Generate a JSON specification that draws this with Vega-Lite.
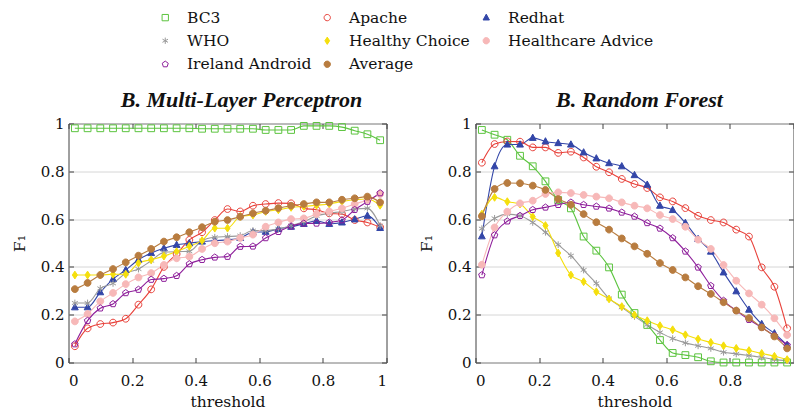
{
"$schema": "https://vega.github.io/schema/vega-lite/v6.json",
"padding": {"left": 11.5, "top": 9.5, "right": 0, "bottom": 0},
"background": "white",
"config": {
  "font": "DejaVu Serif",
  "view": {"stroke": "#404040", "strokeWidth": 1},
  "axis": {"labelFont": "DejaVu Serif", "titleFont": "DejaVu Serif", "labelFontSize": 15, "titleFontSize": 15.5, "labelColor": "#111", "titleColor": "#111", "domain": false, "tickColor": "#404040", "tickSize": -5, "gridColor": "#d6d6d6", "gridWidth": 1, "titleFontWeight": "normal"},
  "legend": {"labelFont": "DejaVu Serif"},
  "title": {"font": "Liberation Serif", "fontSize": 22, "fontWeight": "bold", "fontStyle": "italic", "frame": "group", "anchor": "middle", "baseline": "alphabetic", "offset": 4.5, "color": "#111"}
},
"datasets": {
"mlp": [
{"t":0.02,"BC3":0.98,"Apache":0.068,"Redhat":0.231,"WHO":0.249,"Healthy Choice":0.366,"Healthcare Advice":0.172,"Ireland Android":0.077,"Average":0.307},
{"t":0.06,"BC3":0.98,"Apache":0.143,"Redhat":0.231,"WHO":0.249,"Healthy Choice":0.366,"Healthcare Advice":0.203,"Ireland Android":0.175,"Average":0.333},
{"t":0.10,"BC3":0.98,"Apache":0.161,"Redhat":0.294,"WHO":0.31,"Healthy Choice":0.366,"Healthcare Advice":0.256,"Ireland Android":0.227,"Average":0.366},
{"t":0.14,"BC3":0.98,"Apache":0.167,"Redhat":0.349,"WHO":0.331,"Healthy Choice":0.369,"Healthcare Advice":0.291,"Ireland Android":0.245,"Average":0.391},
{"t":0.18,"BC3":0.98,"Apache":0.183,"Redhat":0.387,"WHO":0.373,"Healthy Choice":0.369,"Healthcare Advice":0.328,"Ireland Android":0.291,"Average":0.419},
{"t":0.22,"BC3":0.98,"Apache":0.242,"Redhat":0.43,"WHO":0.391,"Healthy Choice":0.416,"Healthcare Advice":0.356,"Ireland Android":0.305,"Average":0.447},
{"t":0.26,"BC3":0.98,"Apache":0.306,"Redhat":0.458,"WHO":0.426,"Healthy Choice":0.43,"Healthcare Advice":0.374,"Ireland Android":0.347,"Average":0.475},
{"t":0.30,"BC3":0.98,"Apache":0.40,"Redhat":0.478,"WHO":0.461,"Healthy Choice":0.445,"Healthcare Advice":0.408,"Ireland Android":0.351,"Average":0.506},
{"t":0.34,"BC3":0.98,"Apache":0.454,"Redhat":0.492,"WHO":0.464,"Healthy Choice":0.464,"Healthcare Advice":0.436,"Ireland Android":0.363,"Average":0.524},
{"t":0.38,"BC3":0.98,"Apache":0.513,"Redhat":0.499,"WHO":0.465,"Healthy Choice":0.486,"Healthcare Advice":0.443,"Ireland Android":0.412,"Average":0.545},
{"t":0.42,"BC3":0.978,"Apache":0.545,"Redhat":0.506,"WHO":0.51,"Healthy Choice":0.51,"Healthcare Advice":0.475,"Ireland Android":0.43,"Average":0.566},
{"t":0.46,"BC3":0.978,"Apache":0.596,"Redhat":0.51,"WHO":0.524,"Healthy Choice":0.562,"Healthcare Advice":0.499,"Ireland Android":0.44,"Average":0.589},
{"t":0.50,"BC3":0.978,"Apache":0.642,"Redhat":0.513,"WHO":0.527,"Healthy Choice":0.562,"Healthcare Advice":0.506,"Ireland Android":0.443,"Average":0.596},
{"t":0.54,"BC3":0.978,"Apache":0.632,"Redhat":0.521,"WHO":0.531,"Healthy Choice":0.611,"Healthcare Advice":0.521,"Ireland Android":0.485,"Average":0.61},
{"t":0.58,"BC3":0.978,"Apache":0.656,"Redhat":0.545,"WHO":0.552,"Healthy Choice":0.617,"Healthcare Advice":0.535,"Ireland Android":0.486,"Average":0.624},
{"t":0.62,"BC3":0.973,"Apache":0.663,"Redhat":0.547,"WHO":0.552,"Healthy Choice":0.632,"Healthcare Advice":0.568,"Ireland Android":0.521,"Average":0.635},
{"t":0.66,"BC3":0.973,"Apache":0.667,"Redhat":0.559,"WHO":0.559,"Healthy Choice":0.639,"Healthcare Advice":0.586,"Ireland Android":0.547,"Average":0.646},
{"t":0.70,"BC3":0.973,"Apache":0.666,"Redhat":0.568,"WHO":0.573,"Healthy Choice":0.649,"Healthcare Advice":0.6,"Ireland Android":0.57,"Average":0.656},
{"t":0.74,"BC3":0.99,"Apache":0.645,"Redhat":0.58,"WHO":0.589,"Healthy Choice":0.653,"Healthcare Advice":0.603,"Ireland Android":0.582,"Average":0.663},
{"t":0.78,"BC3":0.99,"Apache":0.639,"Redhat":0.593,"WHO":0.614,"Healthy Choice":0.658,"Healthcare Advice":0.621,"Ireland Android":0.582,"Average":0.67},
{"t":0.82,"BC3":0.99,"Apache":0.624,"Redhat":0.58,"WHO":0.624,"Healthy Choice":0.663,"Healthcare Advice":0.632,"Ireland Android":0.586,"Average":0.67},
{"t":0.86,"BC3":0.985,"Apache":0.621,"Redhat":0.586,"WHO":0.632,"Healthy Choice":0.674,"Healthcare Advice":0.645,"Ireland Android":0.596,"Average":0.681},
{"t":0.90,"BC3":0.97,"Apache":0.596,"Redhat":0.599,"WHO":0.642,"Healthy Choice":0.681,"Healthcare Advice":0.663,"Ireland Android":0.639,"Average":0.687},
{"t":0.94,"BC3":0.955,"Apache":0.586,"Redhat":0.614,"WHO":0.645,"Healthy Choice":0.684,"Healthcare Advice":0.68,"Ireland Android":0.673,"Average":0.694},
{"t":0.98,"BC3":0.93,"Apache":0.566,"Redhat":0.563,"WHO":0.573,"Healthy Choice":0.658,"Healthcare Advice":0.705,"Ireland Android":0.709,"Average":0.67}
],
"rf": [
{"t":0.02,"BC3":0.973,"Apache":0.836,"Redhat":0.528,"WHO":0.56,"Healthy Choice":0.621,"Healthcare Advice":0.409,"Ireland Android":0.366,"Average":0.612},
{"t":0.06,"BC3":0.953,"Apache":0.914,"Redhat":0.821,"WHO":0.603,"Healthy Choice":0.691,"Healthcare Advice":0.565,"Ireland Android":0.533,"Average":0.726},
{"t":0.10,"BC3":0.932,"Apache":0.925,"Redhat":0.912,"WHO":0.621,"Healthy Choice":0.673,"Healthcare Advice":0.631,"Ireland Android":0.591,"Average":0.751},
{"t":0.14,"BC3":0.865,"Apache":0.924,"Redhat":0.912,"WHO":0.614,"Healthy Choice":0.663,"Healthcare Advice":0.666,"Ireland Android":0.614,"Average":0.75},
{"t":0.18,"BC3":0.821,"Apache":0.9,"Redhat":0.94,"WHO":0.586,"Healthy Choice":0.61,"Healthcare Advice":0.677,"Ireland Android":0.639,"Average":0.74},
{"t":0.22,"BC3":0.758,"Apache":0.9,"Redhat":0.925,"WHO":0.545,"Healthy Choice":0.573,"Healthcare Advice":0.705,"Ireland Android":0.649,"Average":0.722},
{"t":0.26,"BC3":0.68,"Apache":0.877,"Redhat":0.918,"WHO":0.493,"Healthy Choice":0.458,"Healthcare Advice":0.712,"Ireland Android":0.66,"Average":0.684},
{"t":0.30,"BC3":0.645,"Apache":0.882,"Redhat":0.912,"WHO":0.447,"Healthy Choice":0.366,"Healthcare Advice":0.709,"Ireland Android":0.67,"Average":0.66},
{"t":0.34,"BC3":0.527,"Apache":0.858,"Redhat":0.879,"WHO":0.387,"Healthy Choice":0.338,"Healthcare Advice":0.701,"Ireland Android":0.66,"Average":0.621},
{"t":0.38,"BC3":0.468,"Apache":0.819,"Redhat":0.854,"WHO":0.331,"Healthy Choice":0.296,"Healthcare Advice":0.694,"Ireland Android":0.653,"Average":0.587},
{"t":0.42,"BC3":0.398,"Apache":0.796,"Redhat":0.834,"WHO":0.268,"Healthy Choice":0.266,"Healthcare Advice":0.687,"Ireland Android":0.645,"Average":0.556},
{"t":0.46,"BC3":0.284,"Apache":0.768,"Redhat":0.821,"WHO":0.231,"Healthy Choice":0.234,"Healthcare Advice":0.67,"Ireland Android":0.628,"Average":0.519},
{"t":0.50,"BC3":0.207,"Apache":0.747,"Redhat":0.784,"WHO":0.193,"Healthy Choice":0.199,"Healthcare Advice":0.656,"Ireland Android":0.611,"Average":0.486},
{"t":0.54,"BC3":0.157,"Apache":0.73,"Redhat":0.744,"WHO":0.158,"Healthy Choice":0.175,"Healthcare Advice":0.645,"Ireland Android":0.584,"Average":0.455},
{"t":0.58,"BC3":0.094,"Apache":0.691,"Redhat":0.656,"WHO":0.126,"Healthy Choice":0.154,"Healthcare Advice":0.617,"Ireland Android":0.561,"Average":0.416},
{"t":0.62,"BC3":0.04,"Apache":0.674,"Redhat":0.638,"WHO":0.1,"Healthy Choice":0.137,"Healthcare Advice":0.6,"Ireland Android":0.521,"Average":0.387},
{"t":0.66,"BC3":0.031,"Apache":0.646,"Redhat":0.584,"WHO":0.082,"Healthy Choice":0.116,"Healthcare Advice":0.568,"Ireland Android":0.465,"Average":0.356},
{"t":0.70,"BC3":0.022,"Apache":0.614,"Redhat":0.517,"WHO":0.07,"Healthy Choice":0.098,"Healthcare Advice":0.514,"Ireland Android":0.398,"Average":0.319},
{"t":0.74,"BC3":0.005,"Apache":0.596,"Redhat":0.464,"WHO":0.059,"Healthy Choice":0.084,"Healthcare Advice":0.475,"Ireland Android":0.321,"Average":0.287},
{"t":0.78,"BC3":0,"Apache":0.586,"Redhat":0.377,"WHO":0.043,"Healthy Choice":0.07,"Healthcare Advice":0.408,"Ireland Android":0.259,"Average":0.252},
{"t":0.82,"BC3":0,"Apache":0.556,"Redhat":0.298,"WHO":0.036,"Healthy Choice":0.059,"Healthcare Advice":0.342,"Ireland Android":0.217,"Average":0.217},
{"t":0.86,"BC3":0,"Apache":0.527,"Redhat":0.221,"WHO":0.029,"Healthy Choice":0.05,"Healthcare Advice":0.289,"Ireland Android":0.179,"Average":0.186},
{"t":0.90,"BC3":0,"Apache":0.398,"Redhat":0.161,"WHO":0.022,"Healthy Choice":0.038,"Healthcare Advice":0.242,"Ireland Android":0.147,"Average":0.147},
{"t":0.94,"BC3":0,"Apache":0.317,"Redhat":0.122,"WHO":0.012,"Healthy Choice":0.026,"Healthcare Advice":0.185,"Ireland Android":0.112,"Average":0.109},
{"t":0.98,"BC3":0,"Apache":0.143,"Redhat":0.073,"WHO":0.008,"Healthy Choice":0.012,"Healthcare Advice":0.115,"Ireland Android":0.073,"Average":0.059}
]
},
"bounds": "flush",
"spacing": 89,
"hconcat": [
{
 "width": 318, "height": 239,
 "title": {"text": "B. Multi-Layer Perceptron", "dx": 14},
 "data": {"name": "mlp"},
 "transform": [{"fold": ["BC3","Apache","Redhat","WHO","Healthy Choice","Healthcare Advice","Ireland Android","Average"], "as": ["series","f1"]}],
 "layer": [
  {"mark": {"type": "line", "interpolate": "monotone", "strokeWidth": 1.1},
   "encoding": {
     "x": {"field": "t", "type": "quantitative", "scale": {"domain": [0,1], "nice": false, "zero": false}, "axis": {"orient": "bottom", "values": [0,0.2,0.4,0.6,0.8,1], "format": "~g", "title": "threshold", "grid": false, "labelPadding": 16, "titlePadding": 6}},
     "y": {"field": "f1", "type": "quantitative", "scale": {"domain": [0,1], "nice": false}, "axis": {"orient": "left", "values": [0,0.2,0.4,0.6,0.8,1], "format": "~g", "title": "F₁", "grid": true, "labelPadding": 9.5, "titlePadding": 13}},
     "color": {"field": "series", "type": "nominal",
       "scale": {"domain": ["BC3","Apache","Redhat","WHO","Healthy Choice","Healthcare Advice","Ireland Android","Average"], "range": ["#5cc43f","#e8423b","#3346a8","#9a9a9a","#f5df0c","#f7b8b8","#8e1f9b","#b87c3f"]}}
   }},
  {"mark": {"type": "point", "filled": false, "size": 46, "strokeWidth": 1, "opacity": 1},
   "encoding": {
     "x": {"field": "t", "type": "quantitative", "axis": {"orient": "top", "values": [0,0.2,0.4,0.6,0.8,1], "labels": false, "title": null, "grid": false}},
     "y": {"field": "f1", "type": "quantitative", "axis": {"orient": "right", "values": [0,0.2,0.4,0.6,0.8,1], "labels": false, "title": null, "grid": false}},
     "color": {"field": "series", "type": "nominal"},
     "fill": {"field": "series", "type": "nominal", "scale": {"domain": ["BC3","Apache","Redhat","WHO","Healthy Choice","Healthcare Advice","Ireland Android","Average"], "range": ["transparent","transparent","#3346a8","transparent","#f5df0c","#f7b8b8","transparent","#b87c3f"]}},
     "shape": {"field": "series", "type": "nominal", "scale": {"domain": ["BC3","Apache","Redhat","WHO","Healthy Choice","Healthcare Advice","Ireland Android","Average"], "range": ["M-1,-1H1V1H-1Z","M1,0A1,1 0 1,1 -1,0A1,1 0 1,1 1,0Z","M0,-1.1L1,0.75H-1Z","M0,-1V1M-0.87,-0.5L0.87,0.5M-0.87,0.5L0.87,-0.5","M0,-1.15L0.75,0L0,1.15L-0.75,0Z","M1,0A1,1 0 1,1 -1,0A1,1 0 1,1 1,0Z","M0,-1L0.95,-0.31L0.59,0.81L-0.59,0.81L-0.95,-0.31Z","M1,0A1,1 0 1,1 -1,0A1,1 0 1,1 1,0Z"]},
       "legend": {"orient": "none", "legendX": 89, "legendY": -114, "title": null, "columns": 3, "direction": "horizontal", "labelFont": "DejaVu Serif", "labelFontSize": 15.5, "labelColor": "#111", "symbolSize": 40, "symbolStrokeWidth": 1, "rowPadding": 6.5, "columnPadding": 8, "labelOffset": 14, "gridAlign": "each", "labelLimit": 300}}
   }}
 ],
 "resolve": {"axis": {"x": "independent", "y": "independent"}}
},
{
 "width": 318, "height": 239,
 "title": {"text": "B. Random Forest", "dx": 5},
 "data": {"name": "rf"},
 "transform": [{"fold": ["BC3","Apache","Redhat","WHO","Healthy Choice","Healthcare Advice","Ireland Android","Average"], "as": ["series","f1"]}],
 "layer": [
  {"mark": {"type": "line", "interpolate": "monotone", "strokeWidth": 1.1},
   "encoding": {
     "x": {"field": "t", "type": "quantitative", "scale": {"domain": [0,1], "nice": false, "zero": false}, "axis": {"orient": "bottom", "values": [0,0.2,0.4,0.6,0.8], "format": "~g", "title": "threshold", "grid": false, "labelPadding": 16, "titlePadding": 6}},
     "y": {"field": "f1", "type": "quantitative", "scale": {"domain": [0,1], "nice": false}, "axis": {"orient": "left", "values": [0,0.2,0.4,0.6,0.8,1], "format": "~g", "title": "F₁", "grid": true, "labelPadding": 9.5, "titlePadding": 13}},
     "color": {"field": "series", "type": "nominal"}
   }},
  {"mark": {"type": "point", "filled": false, "size": 46, "strokeWidth": 1, "opacity": 1},
   "encoding": {
     "x": {"field": "t", "type": "quantitative", "axis": {"orient": "top", "values": [0,0.2,0.4,0.6,0.8,1], "labels": false, "title": null, "grid": false}},
     "y": {"field": "f1", "type": "quantitative", "axis": {"orient": "right", "values": [0,0.2,0.4,0.6,0.8,1], "labels": false, "title": null, "grid": false}},
     "color": {"field": "series", "type": "nominal"},
     "fill": {"field": "series", "type": "nominal"},
     "shape": {"field": "series", "type": "nominal"}
   }}
 ],
 "resolve": {"axis": {"x": "independent", "y": "independent"}}
}
]
}
